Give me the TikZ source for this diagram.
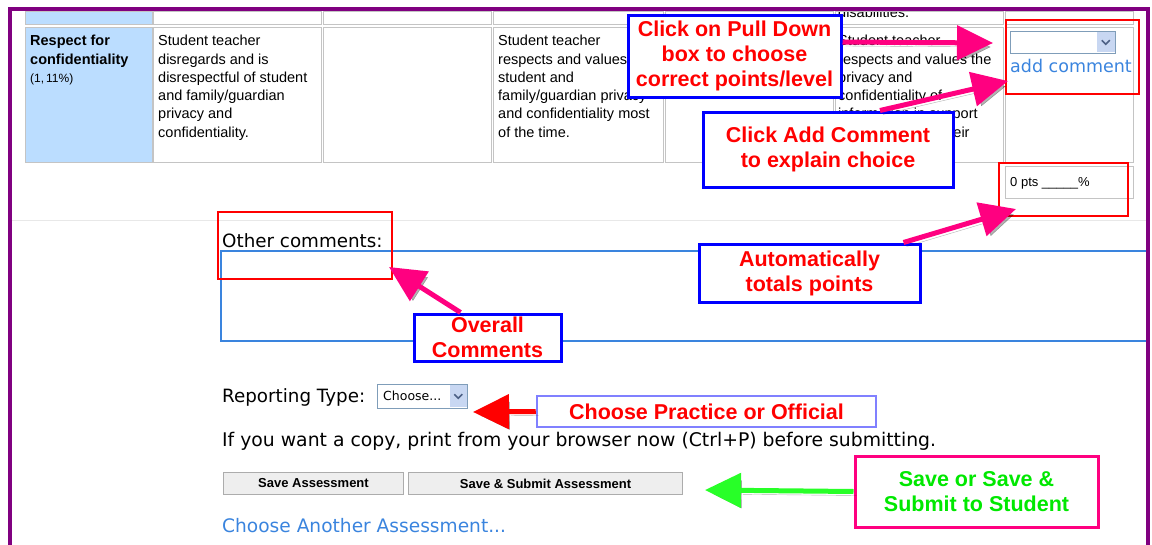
\documentclass[tikz,border=0pt]{standalone}
\usepackage{fontspec}
\setmainfont{Liberation Sans}
\newfontfamily\webfont{DejaVu Sans}
\usetikzlibrary{arrows.meta,positioning}

\definecolor{framepurple}{RGB}{128,0,128}
\definecolor{cellgray}{RGB}{196,196,196}
\definecolor{headblue}{RGB}{187,221,255}
\definecolor{linkblue}{RGB}{58,132,222}
\definecolor{hotpink}{RGB}{255,0,128}
\definecolor{boxblue}{RGB}{0,0,255}
\definecolor{lavender}{RGB}{128,128,255}
\definecolor{brightgreen}{RGB}{0,232,0}
\definecolor{arrowgreen}{RGB}{40,255,40}
\definecolor{selborder}{RGB}{127,157,185}
\definecolor{selbutton}{RGB}{200,215,242}
\definecolor{selarrow}{RGB}{77,97,134}

\tikzset{
  cell/.style={draw=cellgray, line width=1.2pt, anchor=north west, inner sep=0pt},
  celltext/.style={anchor=north west, inner sep=0pt, align=left, font=\fontsize{14.5}{18.3}\selectfont},
  hilite/.style={draw=red, line width=2pt, anchor=north west, inner sep=0pt},
  callout/.style={draw=boxblue, line width=3pt, fill=white, text=red, align=center, inner sep=0pt,
    font=\bfseries\fontsize{21.5}{25}\selectfont},
  webtext/.style={anchor=west, inner sep=0pt, font=\webfont\fontsize{18.3}{22}\selectfont},
  selbox/.style={draw=selborder, fill=white, line width=1pt, anchor=north west, inner sep=0pt},
  selbtn/.style={fill=selbutton, anchor=north east, inner sep=0pt},
  pushbtn/.style={draw=gray!65, fill=gray!13, line width=1pt, anchor=north west, inner sep=0pt,
    font=\bfseries\fontsize{13}{15}\selectfont},
  bigarrow/.style={line width=5pt, -{Triangle[length=36pt,width=34pt]},
    preaction={draw=black, opacity=.3, transform canvas={shift={(3pt,-4pt)}}}},
}

\begin{document}
\begin{tikzpicture}[x=1pt,y=-1pt]
  \useasboundingbox (0,0) rectangle (1152,544);

  % rubric table
  \node[cell, fill=headblue, minimum width=127pt, minimum height=13pt] (top1) at (25,11) {};
  \node[cell, fill=headblue, minimum width=127pt, minimum height=135pt] (row1) at (25,27) {};
  \foreach \x/\w [count=\i from 2] in {153/168,323/168,493/170,665/168,835/168,1005/128}
  {
    \node[cell, minimum width=\w pt, minimum height=13pt] (top\i) at (\x,11) {};
    \node[cell, minimum width=\w pt, minimum height=135pt] (row\i) at (\x,27) {};
  }
  \node[cell, minimum width=128pt, minimum height=32pt] (total) at (1005,166) {};
  \begin{scope}
    \clip (835,12) rectangle (1003,24);
    \node[anchor=base west, inner sep=0pt, font=\fontsize{14.5}{18.3}\selectfont] (prevtext) at (838,17) {disabilities.};
  \end{scope}

  \node[celltext] (crit) at (30,35) {\textbf{Respect for}\\\textbf{confidentiality}\\{\fontsize{12}{15}\selectfont (1,\,11\%)}};
  \node[celltext] (lvlone) at (158,35) {Student teacher\\disregards and is\\disrespectful of student\\and family/guardian\\privacy and\\confidentiality.};
  \node[celltext] (lvlthree) at (498,35) {Student teacher\\respects and values\\student and\\family/guardian privacy\\and confidentiality most\\of the time.};
  \node[celltext] (lvlfive) at (838,35) {Student teacher\\respects and values the\\privacy and\\confidentiality of\\information in support\\of students and their};

  \node[selbox, minimum width=105pt, minimum height=22pt] (ptsel) at (1010,31) {};
  \node[selbtn, minimum width=18pt, minimum height=20pt] (ptselbtn) at ([xshift=-1pt,yshift=-1pt]ptsel.north east) {};
  \draw[selarrow, line width=1.6pt] ([xshift=-4pt,yshift=2pt]ptselbtn.center) -- ([yshift=-2pt]ptselbtn.center) -- ([xshift=4pt,yshift=2pt]ptselbtn.center);
  \node[anchor=west, inner sep=0pt, text=linkblue, font=\webfont\fontsize{17.5}{20}\selectfont] (addlink) at (1010,66) {add comment};
  \node[anchor=west, inner sep=0pt, font=\fontsize{13}{15}\selectfont] (ptstext) at (1010,183) {0 pts \_\_\_\_\_\%};

  \draw[gray!18, line width=1pt] (12,220) -- (1146,220);

  % form below the table
  \node[webtext] (othlbl) at (222,241) {Other comments:};
  \draw[linkblue, line width=1.3pt] (1146,251) -| (221,341) -- (1146,341);
  \node[webtext] (rptlbl) at (222,397) {Reporting Type:};
  \node[selbox, minimum width=90pt, minimum height=24pt] (rptsel) at (377,384) {};
  \node[anchor=west, inner sep=0pt, font=\webfont\fontsize{12.5}{14}\selectfont] (rpttext) at (383,396) {Choose...};
  \node[selbtn, minimum width=17pt, minimum height=22pt] (rptbtn) at ([xshift=-1pt,yshift=-1pt]rptsel.north east) {};
  \draw[selarrow, line width=1.6pt] ([xshift=-4pt,yshift=2pt]rptbtn.center) -- ([yshift=-2pt]rptbtn.center) -- ([xshift=4pt,yshift=2pt]rptbtn.center);
  \node[webtext, font=\webfont\fontsize{18.8}{22}\selectfont] (copynote) at (222,441) {If you want a copy, print from your browser now (Ctrl+P) before submitting.};
  \node[pushbtn, minimum width=180pt, minimum height=22pt] (savebtn) at (223,472) {Save Assessment};
  \node[pushbtn, minimum width=274pt, minimum height=22pt] (submitbtn) at (408,472) {Save \& Submit Assessment};
  \node[webtext, text=linkblue, font=\webfont\fontsize{18.6}{22}\selectfont] (another) at (222,526) {Choose Another Assessment...};

  % red marks and callouts
  \node[hilite, minimum width=133pt, minimum height=74pt] (selmark) at (1005,19) {};
  \node[hilite, minimum width=129pt, minimum height=53pt] (ptsmark) at (998,162) {};
  \node[hilite, minimum width=174pt, minimum height=67pt] (othmark) at (217,211) {};

  \node[callout, minimum width=213pt, minimum height=82pt] (pulldown) at (734.5,56) {Click on Pull Down\\box to choose\\correct points/level};
  \node[callout, minimum width=250pt, minimum height=75pt] (addnote) at (828,149.5) {Click Add Comment\\to explain choice};
  \node[callout, minimum width=221pt, minimum height=58pt] (autonote) at (809.5,273) {Automatically\\totals points};
  \node[callout, minimum width=147pt, minimum height=47pt] (overnote) at (487.5,337.5) {Overall\\Comments};
  \node[callout, draw=lavender, line width=2.5pt, minimum width=339pt, minimum height=31pt] (practnote) at (706.5,411.5) {Choose Practice or Official};
  \node[callout, draw=hotpink, text=brightgreen, minimum width=243pt, minimum height=71pt] (savenote) at (976.5,491.5) {Save or Save \&\\Submit to Student};

  \coordinate (selpt) at (993,43);
  \coordinate (addpt) at (1008,81);
  \coordinate (ptspt) at (1016,209);
  \coordinate (othpt) at (389,267);
  \coordinate (rptpt) at (473,412);
  \coordinate (btnpt) at (705,490);

  \draw[bigarrow, hotpink] ([yshift=14pt]pulldown.east) -- (selpt);
  \draw[bigarrow, hotpink] ([xshift=52pt]addnote.north) -- (addpt);
  \draw[bigarrow, hotpink] ([xshift=94pt]autonote.north) -- (ptspt);
  \draw[bigarrow, hotpink] ([xshift=-27pt]overnote.north) -- (othpt);
  \draw[bigarrow, red] (practnote.west) -- (rptpt);
  \draw[bigarrow, arrowgreen] (savenote.west) -- (btnpt);

  \draw[framepurple, line width=4pt] (10,546) -- (10,9) -- (1148,9) -- (1148,546);
\end{tikzpicture}
\end{document}
